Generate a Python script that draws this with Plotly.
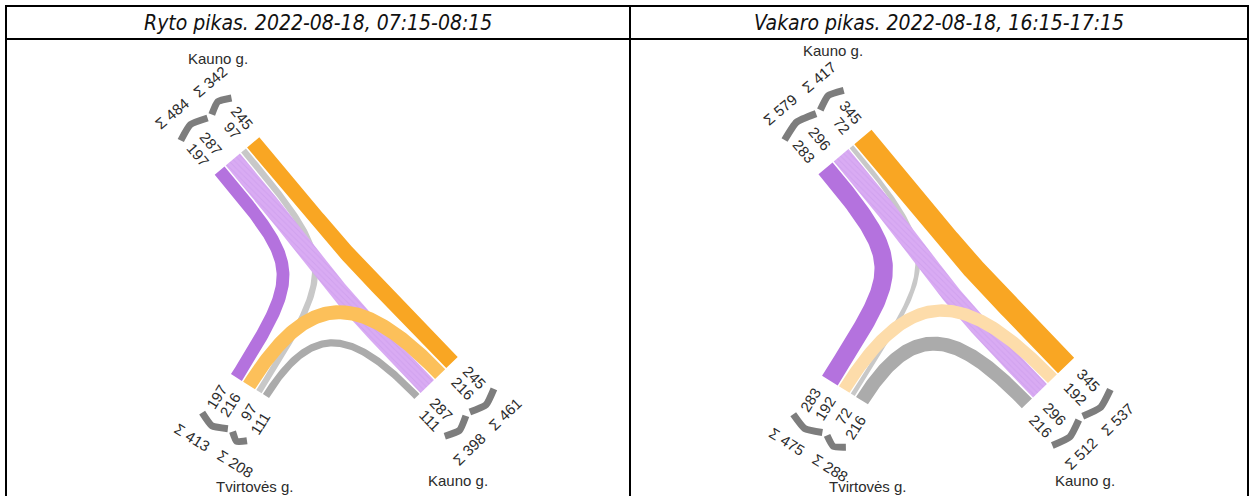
import numpy as np
import plotly.graph_objects as go

# ---------------- data ----------------
FLOW_KEYS = ["dark_purple", "light_purple", "light_gray", "orange", "light_orange", "gray"]
FLOW_ENDS = [("T", "BL"), ("T", "BR"), ("T", "BL"), ("T", "BR"), ("BL", "BR"), ("BL", "BR")]
MORNING = [197, 287, 97, 245, 216, 111]
EVENING = [283, 296, 72, 345, 192, 216]
PANEL_VALUES = [MORNING, EVENING]
PANEL_TITLES = ["Ryto pikas. 2022-08-18, 07:15-08:15", "Vakaro pikas. 2022-08-18, 16:15-17:15"]
ARM_NAMES = {"T": "Kauno g.", "BL": "Tvirtovės g.", "BR": "Kauno g."}
ARM_ORDER = {"T": [0, 1, 2, 3], "BL": [0, 4, 2, 5], "BR": [5, 1, 4, 3]}
ARM_GROUPS = {"T": [[0, 1], [2, 3]], "BL": [[0, 4], [2, 5]], "BR": [[5, 1], [4, 3]]}

# ---------------- styles / layout ----------------
PANEL_COLORS = [
    {"dark_purple": "#b472de", "light_purple": "#d9abf3", "light_gray": "#c8c8c8",
     "orange": "#f9a623", "light_orange": "#fcc05a", "gray": "#ababab"},
    {"dark_purple": "#b472de", "light_purple": "#d9abf3", "light_gray": "#c8c8c8",
     "orange": "#f9a623", "light_orange": "#fddcaa", "gray": "#ababab"},
]
DRAW_ORDER = [5, 2, 1, 4, 0, 3]
SCALE = 0.065
GAP = 1.5
CURVE_K = 0.6
PANEL_ARMS = [
    {"T": ((237, 156), 50, -1), "BL": ((250, 386), -58, 1), "BR": ((436, 378), 226, 1)},
    {"T": ((845, 152), 50, -1), "BL": ((845, 390), -58, 1), "BR": ((1048, 383), 226, 1)},
]
NAME_POS = [
    {"T": (218, 58), "BL": (255, 486), "BR": (458, 480)},
    {"T": (833, 50), "BL": (868, 486), "BR": (1085, 480)},
]
W, H = 1259, 496
TEXT = "#2b2b2b"
FONT = "Liberation Sans, Arial, sans-serif"
NUM_SIZE = 15
NUM_MIN_SEP = 16
NUM_SPREAD = 6
SUM_MIN_SEP = 50
NUM_R0 = 14
BRACE_R = 50
SUM_R = 74

fig = go.Figure()
annotations = []


def arm_geom(spec):
    (cx, cy), ang, sgn = spec
    a = np.deg2rad(ang)
    d = np.array([np.cos(a), np.sin(a)])
    p = np.array([-d[1], d[0]]) if sgn > 0 else np.array([d[1], -d[0]])
    return np.array([cx, cy], float), d, p


def read_angle(v):
    if v[0] < 0:
        v = -v
    return float(np.degrees(np.arctan2(v[1], v[0])))


def spread_pair(a, b, min_sep):
    if b - a < min_sep:
        m = (a + b) / 2
        return m - min_sep / 2, m + min_sep / 2
    return a, b


for pi, values in enumerate(PANEL_VALUES):
    colors = PANEL_COLORS[pi]
    arms = {k: arm_geom(v) for k, v in PANEL_ARMS[pi].items()}
    slots = {}
    for arm, order in ARM_ORDER.items():
        c, d, p = arms[arm]
        widths = [values[i] * SCALE for i in order]
        total = sum(widths) + GAP * (len(widths) - 1)
        pos = -total / 2
        for i, w in zip(order, widths):
            slots[(arm, i)] = (c + p * (pos + w / 2), pos, pos + w)
            pos += w + GAP

    # ribbons
    for i in DRAW_ORDER:
        a1, a2 = FLOW_ENDS[i]
        P0 = slots[(a1, i)][0]
        P3 = slots[(a2, i)][0]
        L = CURVE_K * np.linalg.norm(P3 - P0)
        P1 = P0 + arms[a1][1] * L
        P2 = P3 + arms[a2][1] * L
        t = np.linspace(0, 1, 90)[:, None]
        B = (1 - t) ** 3 * P0 + 3 * (1 - t) ** 2 * t * P1 + 3 * (1 - t) * t ** 2 * P2 + t ** 3 * P3
        D = 3 * (1 - t) ** 2 * (P1 - P0) + 6 * (1 - t) * t * (P2 - P1) + 3 * t ** 2 * (P3 - P2)
        D = D / np.linalg.norm(D, axis=1)[:, None]
        N = np.stack([-D[:, 1], D[:, 0]], axis=1)
        w = values[i] * SCALE
        left = B + N * w / 2
        right = B - N * w / 2
        poly = np.vstack([left, right[::-1], left[:1]])
        kw = {}
        if FLOW_KEYS[i] == "light_purple":
            kw["fillpattern"] = dict(shape="\\", fgcolor="#c897e8", bgcolor=colors["light_purple"],
                                     size=4, solidity=0.25)
        fig.add_trace(go.Scatter(x=poly[:, 0], y=poly[:, 1], mode="lines", fill="toself",
                                 fillcolor=colors[FLOW_KEYS[i]], line=dict(width=0),
                                 hoverinfo="skip", showlegend=False, **kw))

    # labels per arm
    for arm, order in ARM_ORDER.items():
        c, d, p = arms[arm]
        ang_num = read_angle(d)
        ang_sum = read_angle(p)
        groups = ARM_GROUPS[arm]
        gmid = []
        for grp in groups:
            lo = min(slots[(arm, i)][1] for i in grp)
            hi = max(slots[(arm, i)][2] for i in grp)
            gmid.append((lo, hi))
        s0, s1 = spread_pair((gmid[0][0] + gmid[0][1]) / 2, (gmid[1][0] + gmid[1][1]) / 2, SUM_MIN_SEP)
        sum_pos = [s0, s1]
        for gi, grp in enumerate(groups):
            sgn = -1 if gi == 0 else 1
            pa = slots[(arm, grp[0])][1] + values[grp[0]] * SCALE / 2
            pb = slots[(arm, grp[1])][1] + values[grp[1]] * SCALE / 2
            pa, pb = spread_pair(pa, pb, NUM_MIN_SEP)
            for i, pp in zip(grp, (pa, pb)):
                txt = str(values[i])
                r = NUM_R0 + len(txt) * 8.3 / 2
                pt = c + p * (pp + sgn * NUM_SPREAD) - d * r
                annotations.append(dict(x=pt[0], y=pt[1], text=txt, textangle=ang_num, showarrow=False,
                                        font=dict(size=NUM_SIZE, color=TEXT, family=FONT)))
            lo, hi = gmid[gi]
            mid = (lo + hi) / 2 + sgn * 3
            half = (hi - lo) / 2 + 1
            base = c - d * BRACE_R
            pts = np.array([base + p * (mid - half) + d * 2, base + p * mid - d * 4,
                            base + p * (mid + half) + d * 2])
            fig.add_trace(go.Scatter(x=pts[:, 0], y=pts[:, 1], mode="lines",
                                     line=dict(color="#7d7d7d", width=7, shape="spline", smoothing=0.5),
                                     hoverinfo="skip", showlegend=False))
            tot = sum(values[i] for i in grp)
            sp = c + p * sum_pos[gi] - d * SUM_R
            annotations.append(dict(x=sp[0], y=sp[1], text=f"Σ {tot}", textangle=ang_sum,
                                    showarrow=False, font=dict(size=NUM_SIZE, color=TEXT, family=FONT)))
        nx, ny = NAME_POS[pi][arm]
        annotations.append(dict(x=nx, y=ny, text=ARM_NAMES[arm], showarrow=False,
                                font=dict(size=15, color=TEXT, family=FONT)))

# titles
for cx, title in zip([318, 939], PANEL_TITLES):
    annotations.append(dict(x=cx, y=23, text=f"<i>{title}</i>", showarrow=False,
                            font=dict(size=21, color="#111111",
                                      family="Liberation Sans Narrow, Arial Narrow, DejaVu Sans Condensed, sans-serif")))

# table lines
shapes = [
    dict(type="line", x0=5, x1=1249, y0=6, y1=6),
    dict(type="line", x0=5, x1=1249, y0=39, y1=39),
    dict(type="line", x0=6, x1=6, y0=5, y1=500),
    dict(type="line", x0=1248, x1=1248, y0=5, y1=500),
    dict(type="line", x0=630, x1=630, y0=5, y1=500),
]
for s in shapes:
    s.update(xref="x", yref="y", line=dict(color="#000000", width=2), layer="above")

fig.update_layout(
    width=W, height=H, margin=dict(l=0, r=0, t=0, b=0),
    paper_bgcolor="white", plot_bgcolor="white",
    xaxis=dict(range=[0, W], visible=False, fixedrange=True),
    yaxis=dict(range=[H, 0], visible=False, fixedrange=True),
    annotations=annotations, shapes=shapes, showlegend=False,
)
fig.write_html("out.html", config={"displayModeBar": False},
               post_script="document.body.style.margin='0';document.body.style.overflow='hidden';")
